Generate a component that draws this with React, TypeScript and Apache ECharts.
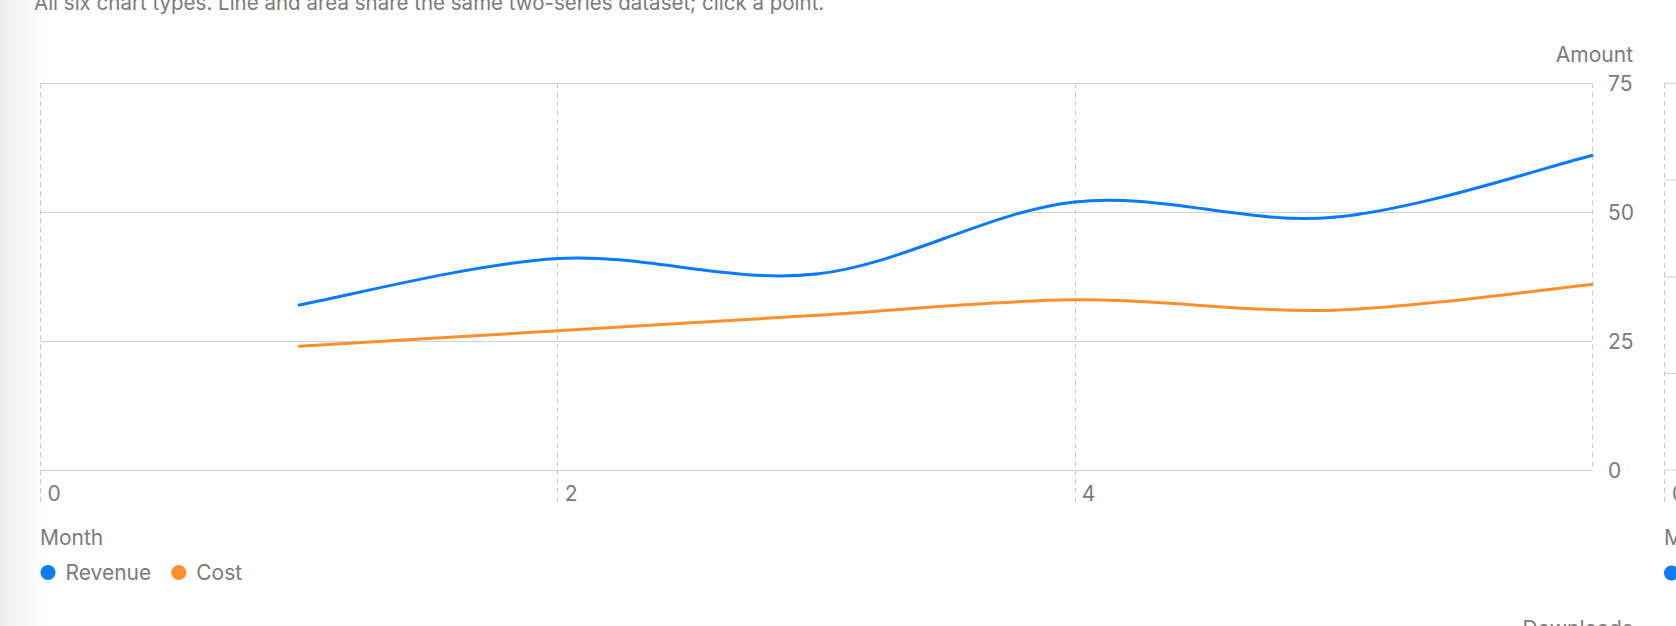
import { useEffect, useRef } from 'react'
import * as echarts from 'echarts'

const months  = [1, 2, 3, 4, 5, 6]
const revenue = [32, 41, 38, 52, 49, 61]
const cost    = [24, 27, 30, 33, 31, 36]

const xTicks = { min: 0, max: 6, interval: 2 }
const yTicks = { min: 0, max: 75, interval: 25 }

const seriesNames  = ['Revenue', 'Cost']
const seriesColors = ['#0a7aff', '#ff8f2b']

const FONT = 'Inter, "Noto Sans", sans-serif'
const TEXT = '#7b7b7b'
const GRID = '#d2d2d2'
const DASH = '#c9c9c9'
const FS   = 21

// Catmull-Rom segment i -> i+1, drawn in pixel space through the axes' scales
function catmullRom(vals: number[], color: string) {
  return (params: any, api: any) => {
    const i = params.dataIndex
    if (i >= vals.length - 1) return null
    const pt = (k: number) => {
      const j = Math.max(0, Math.min(vals.length - 1, k))
      return api.coord([months[j], vals[j]])
    }
    const p0 = pt(i - 1), p1 = pt(i), p2 = pt(i + 1), p3 = pt(i + 2)
    return {
      type: 'bezierCurve',
      shape: {
        x1: p1[0], y1: p1[1], x2: p2[0], y2: p2[1],
        cpx1: p1[0] + (p2[0] - p0[0]) / 6, cpy1: p1[1] + (p2[1] - p0[1]) / 6,
        cpx2: p2[0] - (p3[0] - p1[0]) / 6, cpy2: p2[1] - (p3[1] - p1[1]) / 6,
      },
      style: { stroke: color, lineWidth: 3, fill: 'none', lineCap: 'round' },
    }
  }
}

export default function App() {
  const ref = useRef<HTMLDivElement>(null)

  useEffect(() => {
    document.body.style.margin = '0'
    if (!ref.current) return
    const chart = echarts.init(ref.current, undefined, { renderer: 'svg' })

    chart.setOption({
      animation: false,
      backgroundColor: '#ffffff',
      textStyle: { fontFamily: FONT },
      grid: { left: 40.6, right: 84, top: 83.3, bottom: 156, containLabel: false },
      xAxis: {
        type: 'value',
        ...xTicks,
        axisLine: { show: true, lineStyle: { color: GRID, width: 1 } },
        axisTick: { show: true, inside: false, length: 35, lineStyle: { color: DASH, type: [5, 4] } },
        splitLine: { show: true, lineStyle: { color: DASH, type: [5, 4] } },
        axisLabel: {
          showMaxLabel: false,
          color: TEXT, fontSize: FS, fontFamily: FONT,
          align: 'left', verticalAlign: 'middle', margin: 23,
          padding: [0, 0, 0, 7],
        },
      },
      yAxis: {
        type: 'value',
        position: 'right',
        ...yTicks,
        axisLine: { show: false },
        axisTick: { show: true, length: 8, lineStyle: { color: GRID } },
        splitLine: { show: true, lineStyle: { color: GRID, width: 1 } },
        axisLabel: {
          color: TEXT, fontSize: FS, fontFamily: FONT,
          align: 'left', verticalAlign: 'middle', margin: 16,
        },
      },
      legend: {
        left: 35.5, top: 557,
        icon: 'circle', itemWidth: 15, itemHeight: 15, itemGap: 20,
        textStyle: { color: TEXT, fontSize: FS, fontFamily: FONT, padding: [0, 0, 0, 5] },
        data: seriesNames,
      },
      series: [revenue, cost].map((vals, i) => ({
        name: seriesNames[i],
        type: 'custom',
        data: months.map((m, j) => [m, vals[j]]),
        encode: { x: 0, y: 1 },
        itemStyle: { color: seriesColors[i] },
        renderItem: catmullRom(vals, seriesColors[i]),
      })),
      graphic: [
        {
          type: 'rect', z: -100, silent: true,
          shape: { x: 0, y: 0, width: 42, height: 626 },
          style: {
            fill: new echarts.graphic.LinearGradient(0, 0, 1, 0, [
              { offset: 0, color: '#eeeeee' },
              { offset: 1, color: '#fcfcfc' },
            ]),
          },
        },
        {
          type: 'text', x: 34, y: 2.5,
          style: {
            text: 'All six chart types. Line and area share the same two-series dataset; click a point.',
            fill: TEXT, font: `20.5px ${FONT}`, align: 'left', verticalAlign: 'middle',
          },
        },
        {
          type: 'text', x: 1633, y: 54.5,
          style: { text: 'Amount', fill: TEXT, font: `${FS}px ${FONT}`, align: 'right', verticalAlign: 'middle' },
        },
        {
          type: 'text', x: 40, y: 537,
          style: { text: 'Month', fill: TEXT, font: `${FS}px ${FONT}`, align: 'left', verticalAlign: 'middle' },
        },
        {
          type: 'text', x: 1633, y: 628,
          style: { text: 'Downloads', fill: TEXT, font: `${FS}px ${FONT}`, align: 'right', verticalAlign: 'middle' },
        },
        // neighbouring chart, cut off at the right edge
        {
          type: 'line', silent: true,
          shape: { x1: 1664.5, y1: 83, x2: 1664.5, y2: 505 },
          style: { stroke: DASH, lineWidth: 1, lineDash: [5, 4] },
        },
        ...[83.3, 180, 277, 373.5, 470].map(y => ({
          type: 'line', silent: true,
          shape: { x1: 1664, y1: y, x2: 1676, y2: y },
          style: { stroke: GRID, lineWidth: 1 },
        })),
        {
          type: 'text', x: 1672, y: 493.5,
          style: { text: '0', fill: TEXT, font: `${FS}px ${FONT}`, align: 'left', verticalAlign: 'middle' },
        },
        {
          type: 'text', x: 1664, y: 537,
          style: { text: 'M', fill: TEXT, font: `${FS}px ${FONT}`, align: 'left', verticalAlign: 'middle' },
        },
        {
          type: 'circle', silent: true,
          shape: { cx: 1671.5, cy: 573, r: 7.5 },
          style: { fill: seriesColors[0] },
        },
      ],
    })

    return () => chart.dispose()
  }, [])

  return <div ref={ref} style={{ width: 1676, height: 626 }} />
}
